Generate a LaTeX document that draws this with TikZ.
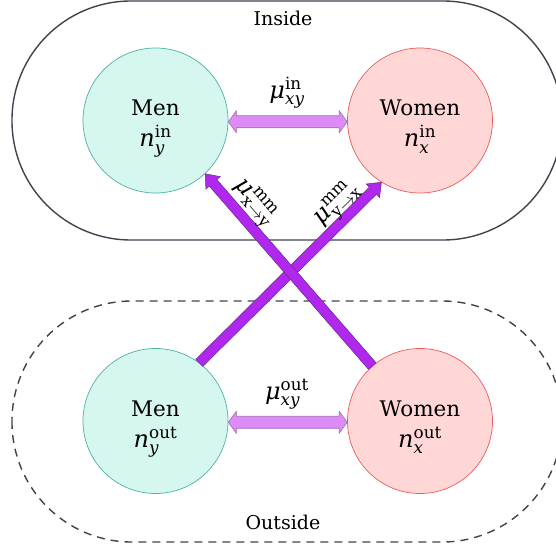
\documentclass[tikz,border=0pt]{standalone}
\usepackage{fontspec}
\usepackage{amsmath}
\setmainfont{DejaVu Serif}
\usetikzlibrary{calc}
\definecolor{menfill}{HTML}{D6F7F0}
\definecolor{mendraw}{HTML}{4BB3A4}
\definecolor{wfill}{HTML}{FFD7D7}
\definecolor{wdraw}{HTML}{EE5A5A}
\definecolor{framec}{HTML}{3F434D}
\definecolor{hfill}{HTML}{DD8CF6}
\definecolor{hdraw}{HTML}{A567BE}
\definecolor{dfill}{HTML}{B027EE}
\definecolor{ddraw}{HTML}{6B2A8A}
\newcommand{\fatarrow}[3]{%
  \filldraw[#3] let \p1=(#1), \p2=(#2), \n1={atan2(\y2-\y1,\x2-\x1)}, \n2={veclen(\x2-\x1,\y2-\y1)} in
  [shift={(\p1)}, rotate=\n1] (0,5) -- ({\n2-12},5) -- ({\n2-12},9.5) -- (\n2,0) -- ({\n2-12},-9.5) -- ({\n2-12},-5) -- (0,-5) -- cycle;}
\newcommand{\fatdoublearrow}[3]{%
  \filldraw[#3] let \p1=(#1), \p2=(#2), \n1={atan2(\y2-\y1,\x2-\x1)}, \n2={veclen(\x2-\x1,\y2-\y1)} in
  [shift={(\p1)}, rotate=\n1] (0,0) -- (8,11) -- (8,6) -- ({\n2-8},6) -- ({\n2-8},11) -- (\n2,0) -- ({\n2-8},-11) -- ({\n2-8},-6) -- (8,-6) -- (8,-11) -- cycle;}
\newcommand{\twolines}[2]{\raisebox{-26.5pt}[0pt][0pt]{\fontsize{21.5}{31}\selectfont
  \begin{tabular}[b]{@{}c@{}}#1\\{\fontsize{24}{31}\selectfont #2}\end{tabular}}}
\newcommand{\mustack}[2]{\textit{μ}\kern0.5pt\raisebox{-6.5pt}{\fontsize{16.5}{16}\selectfont
  \begin{tabular}[b]{@{}l@{}}#1\\#2\end{tabular}}}
\begin{document}
\begin{tikzpicture}[x=1pt,y=-1pt,
  person/.style={circle, minimum size=145pt, inner sep=0pt, line width=0.7pt},
  men/.style={person, draw=mendraw, fill=menfill},
  women/.style={person, draw=wdraw, fill=wfill},
  region/.style={draw=framec, line width=1.4pt},
  lbl/.style={font=\fontsize{24}{28}\selectfont, inner sep=0pt},
  mmlbl/.style={font=\fontsize{24}{28}\selectfont, inner sep=0pt},
  harrow/.style={fill=hfill, draw=hdraw, line width=0.6pt},
  darrow/.style={fill=dfill, draw=ddraw, line width=0.5pt}]
\useasboundingbox (0,0) rectangle (556,548);
\draw[region, rounded corners=119pt] (12,1) rectangle (562,240);
\draw[region, dash pattern=on 8pt off 6pt, rounded corners=120pt] (12,301) rectangle (562,542);
\node[font=\fontsize{19}{22}\selectfont] (inside) at (283,18) {Inside};
\node[font=\fontsize{19}{22}\selectfont] (outside) at (283,522) {Outside};
\node[men] (mi) at (155.5,120.5) {\twolines{Men}{$\textit{n}^{\text{in}}_{\textit{y}}$}};
\node[women] (wi) at (420,120.5) {\twolines{Women}{$\textit{n}^{\text{in}}_{\textit{x}}$}};
\node[men] (mo) at (155.5,421) {\twolines{Men}{$\textit{n}^{\text{out}}_{\textit{y}}$}};
\node[women] (wo) at (420,421) {\twolines{Women}{$\textit{n}^{\text{out}}_{\textit{x}}$}};
\fatdoublearrow{mi.-1}{wi.181}{harrow}
\fatdoublearrow{mo.-1}{wo.181}{harrow}
\fatarrow{mo.53}{wi.238.6}{darrow}
\fatarrow{wo.131.6}{mi.-47.9}{darrow}
\node[lbl] (lin) at (287,93) {$\textit{μ}^{\text{in}}_{\textit{xy}}$};
\node[lbl] (lout) at (287,394) {$\textit{μ}^{\text{out}}_{\textit{xy}}$};
\node[mmlbl, rotate=-49] (lxy) at (255,202) {\mustack{mm}{x$\rightarrow$y}};
\node[mmlbl, rotate=45] (lyx) at (337,204) {\mustack{mm}{y$\rightarrow$x}};
\end{tikzpicture}
\end{document}
